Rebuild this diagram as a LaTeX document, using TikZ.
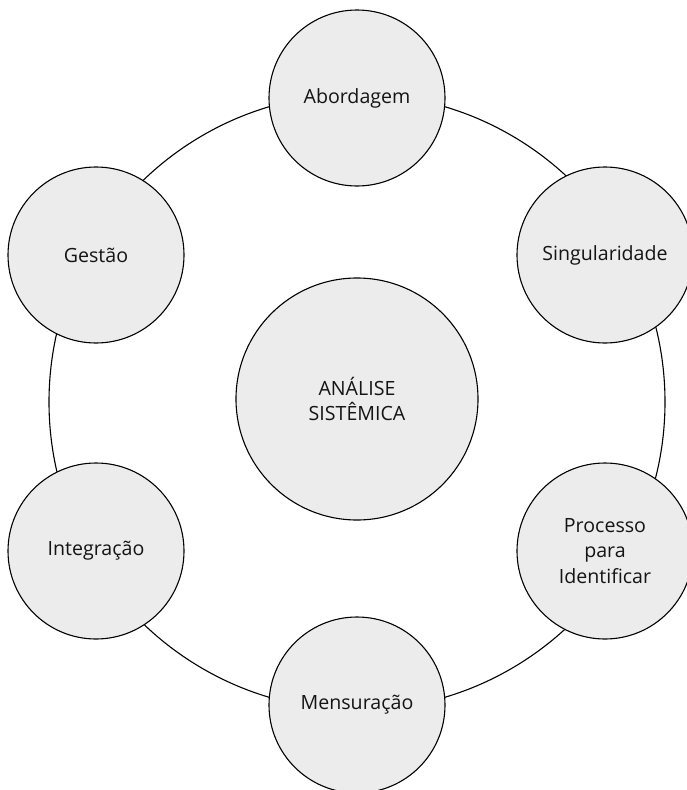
\documentclass[tikz,border=0pt]{standalone}
\usepackage{fontspec}
\setmainfont{Open Sans}
\definecolor{circfill}{RGB}{235,236,235}
\definecolor{txt}{RGB}{20,20,20}
\begin{document}
\begin{tikzpicture}[x=1pt,y=-1pt,
  ring/.style={line width=1.1pt,draw=black},
  bubble/.style={circle,draw=black,line width=1.1pt,fill=circfill,inner sep=0pt,
    minimum size=176pt,align=center,text=txt,
    font=\fontsize{19.6}{25.5}\selectfont},
  core/.style={bubble,minimum size=242pt}]
\useasboundingbox (0,0) rectangle (687,790);
\coordinate (rc) at (357,402);
\draw[ring] (rc) circle[radius=308];
\node[core] (core) at (357,399) {ANÁLISE\\SISTÊMICA};
\node[bubble] (abord) at (357,98) {Abordagem};
\node[bubble] (sing) at (605,255) {Singularidade};
\node[bubble] (proc) at (605,551) {\raisebox{0pt}{Processo}\\para\\Identificar};
\node[bubble] (mens) at (357,705) {Mensuração};
\node[bubble] (integ) at (96,551) {Integração};
\node[bubble] (gest) at (96,255) {Gestão};
\end{tikzpicture}
\end{document}
